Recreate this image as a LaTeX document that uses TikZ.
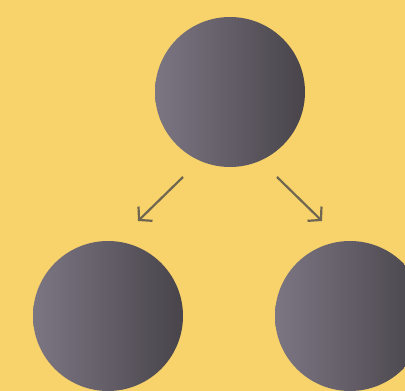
\documentclass[tikz,border=0pt]{standalone}
\usetikzlibrary{arrows.meta}
\definecolor{bgyellow}{HTML}{F8D26A}
\definecolor{ballL}{HTML}{7C7683}
\definecolor{ballR}{HTML}{48444A}
\definecolor{arrowc}{HTML}{6E6650}
\tikzset{
  ball/.style={circle, minimum size=150pt, inner sep=0pt, shading=axis, left color=ballL, right color=ballR, shading angle=90},
  flow/.style={draw=arrowc, line width=2.2pt, -{Straight Barb[length=9pt, width=20pt, line width=2.2pt]}}
}
\begin{document}
\begin{tikzpicture}[x=1pt,y=-1pt]
\useasboundingbox (0,0) rectangle (405,391);
\clip (0,0) rectangle (405,391);
\fill[bgyellow] (0,0) rectangle (405,391);
\node[ball] (top) at (230,92) {};
\node[ball] (left) at (108,316) {};
\node[ball] (right) at (350,316) {};
\coordinate (ls) at (183,177);
\coordinate (le) at (138,221);
\coordinate (rs) at (277,177);
\coordinate (re) at (322,221);
\draw[flow] (ls) -- (le);
\draw[flow] (rs) -- (re);
\end{tikzpicture}
\end{document}
